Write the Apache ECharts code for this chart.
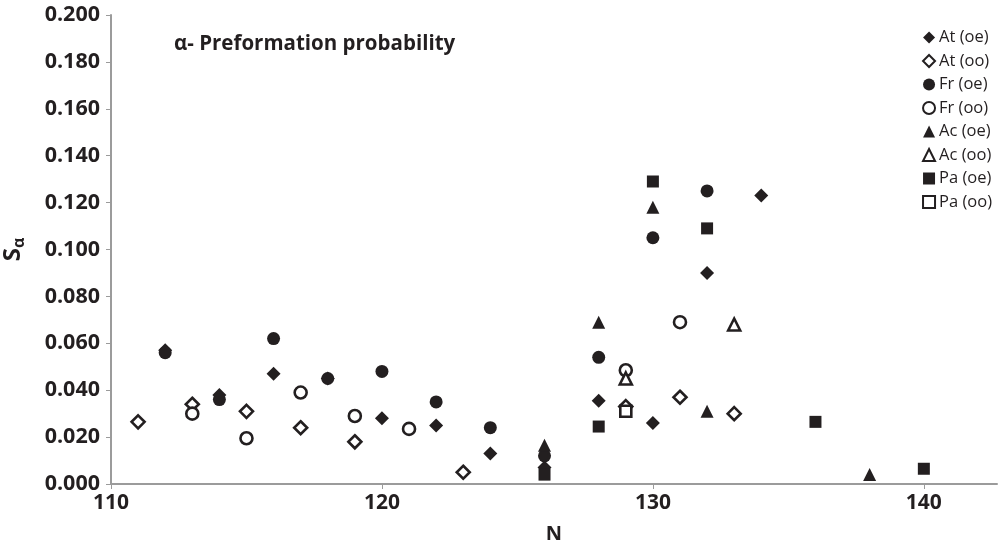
<!DOCTYPE html>
<html>
<head>
<meta charset="utf-8">
<script src="https://cdn.jsdelivr.net/npm/echarts@6/dist/echarts.min.js"></script>
<style>
  html, body { margin: 0; padding: 0; background: #fff; }
  #chart { width: 998px; height: 548px; }
</style>
</head>
<body>
<div id="chart"></div>
<script>
// [N, S_alpha] pairs
const atOE = [[112, 0.057], [114, 0.038], [116, 0.047], [118, 0.045], [120, 0.028], [122, 0.025], [124, 0.013], [126, 0.007], [128, 0.0355], [130, 0.026], [132, 0.090], [134, 0.123]];
const atOO = [[111, 0.0265], [113, 0.034], [115, 0.031], [117, 0.024], [119, 0.018], [123, 0.005], [129, 0.033], [131, 0.037], [133, 0.030]];
const frOE = [[112, 0.056], [114, 0.036], [116, 0.062], [118, 0.045], [120, 0.048], [122, 0.035], [124, 0.024], [126, 0.012], [128, 0.054], [130, 0.105], [132, 0.125]];
const frOO = [[113, 0.030], [115, 0.0195], [117, 0.039], [119, 0.029], [121, 0.0235], [129, 0.0485], [131, 0.069]];
const acOE = [[126, 0.0165], [128, 0.069], [130, 0.118], [132, 0.031], [138, 0.004]];
const acOO = [[129, 0.045], [133, 0.068]];
const paOE = [[126, 0.004], [128, 0.0245], [130, 0.129], [132, 0.109], [136, 0.0265], [140, 0.0065]];
const paOO = [[129, 0.031]];

const seriesNames = ['At (oe)', 'At (oo)', 'Fr (oe)', 'Fr (oo)', 'Ac (oe)', 'Ac (oo)', 'Pa (oe)', 'Pa (oo)'];

const ink = '#231f20';
const font = '"Open Sans", "DejaVu Sans", sans-serif';

function mk(name, data, symbol, size, hollow) {
  return {
    name, type: 'scatter', data, symbol, symbolSize: size,
    itemStyle: hollow
      ? { color: '#fff', borderColor: ink, borderWidth: 2.6, opacity: 1 }
      : { color: ink, opacity: 1 },
    emphasis: { disabled: true },
    animation: false,
  };
}

const chart = echarts.init(document.getElementById('chart'));
chart.setOption({
  backgroundColor: '#fff',
  title: {
    text: 'α- Preformation probability',
    left: 169, top: 29,
    textStyle: { fontFamily: font, fontSize: 20.5, fontWeight: 'bold', color: ink },
  },
  legend: {
    orient: 'vertical', right: 1, top: 24,
    itemWidth: 12, itemHeight: 12, itemGap: 6.5,
    textStyle: { fontFamily: font, fontSize: 16.5, color: ink, padding: [0, 0, 0, -1] },
    data: seriesNames,
  },
  grid: { left: 111, right: 1, top: 15, bottom: 64, outerBoundsMode: 'none' },
  xAxis: {
    type: 'value', min: 110, max: 142.7, interval: 10,
    name: 'N', nameLocation: 'middle', nameGap: 40,
    nameTextStyle: { fontFamily: font, fontSize: 20, fontWeight: 'bold', color: ink },
    axisLine: { lineStyle: { color: '#9b9b9b', width: 2 } },
    axisTick: { show: true, length: 5, lineStyle: { color: '#9b9b9b' } },
    axisLabel: { fontFamily: font, fontSize: 21, fontWeight: 'bold', color: ink, margin: 9,
      showMaxLabel: false },
    splitLine: { show: false },
  },
  yAxis: {
    type: 'value', min: 0, max: 0.2, interval: 0.02,
    name: '{s|S}{sub|α}', nameLocation: 'middle', nameGap: 84, nameRotate: 90,
    nameTextStyle: {
      rich: {
        s: { fontFamily: font, fontSize: 24, fontWeight: 'bold', color: ink },
        sub: { fontFamily: font, fontSize: 16, fontWeight: 'bold', color: ink, verticalAlign: 'bottom', padding: [12, 0, 0, 0] },
      },
    },
    axisLine: { show: true, lineStyle: { color: '#9b9b9b', width: 2 } },
    axisTick: { show: true, length: 5, lineStyle: { color: '#9b9b9b' } },
    axisLabel: { fontFamily: font, fontSize: 21.5, fontWeight: 'bold', color: ink, margin: 11,
      formatter: v => v.toFixed(3) },
    splitLine: { show: false },
  },
  series: [
    mk('At (oe)', atOE, 'diamond', 14, false),
    mk('At (oo)', atOO, 'diamond', 13, true),
    mk('Fr (oe)', frOE, 'circle', 13, false),
    mk('Fr (oo)', frOO, 'circle', 12, true),
    mk('Ac (oe)', acOE, 'triangle', 13, false),
    mk('Ac (oo)', acOO, 'triangle', 12, true),
    mk('Pa (oe)', paOE, 'rect', 12, false),
    mk('Pa (oo)', paOO, 'rect', 11, true),
  ],
});
</script>
</body>
</html>
